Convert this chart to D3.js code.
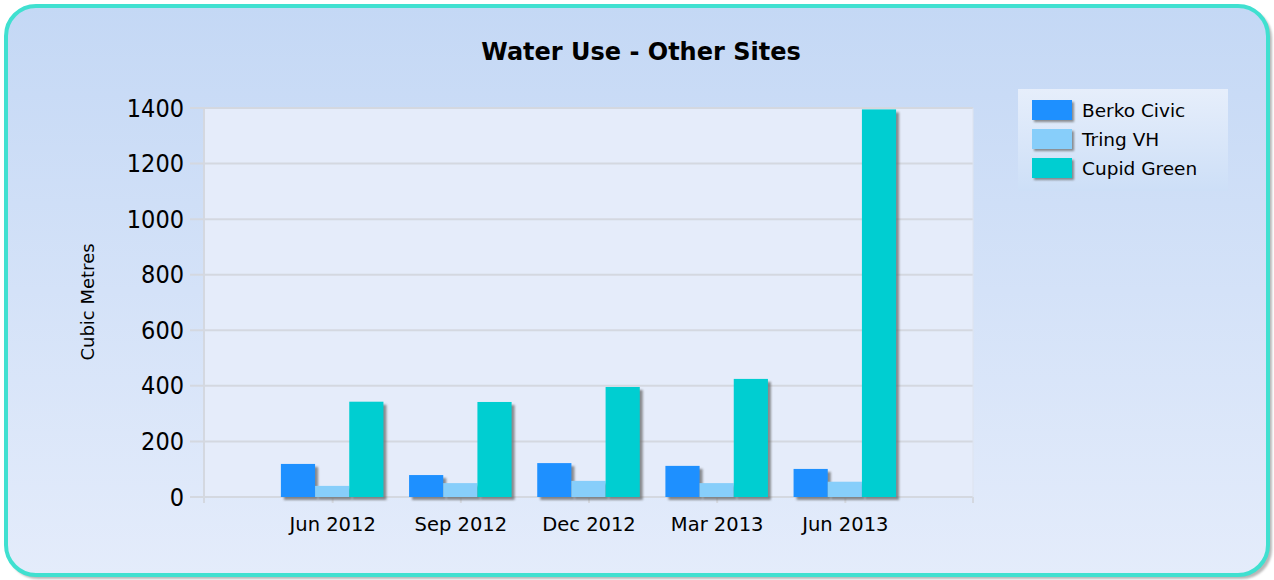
<!DOCTYPE html>
<html>
<head>
<meta charset="utf-8">
<script src="https://cdn.jsdelivr.net/npm/d3@7"></script>
<style>
  html, body { margin: 0; padding: 0; background: #ffffff; }
  svg { display: block; }
  text { font-family: "DejaVu Sans", sans-serif; fill: #000; }
</style>
</head>
<body>
<div id="canvas"></div>
<script>
// chart data
var periods = ['Jun 2012', 'Sep 2012', 'Dec 2012', 'Mar 2013', 'Jun 2013'];
var seriesNames = ['Berko Civic', 'Tring VH', 'Cupid Green'];
var seriesColors = ['#1e90ff', '#87cefa', '#00ced1'];
var berkoCivic = [119, 79, 122, 112, 101];
var tringVH = [40, 50, 58, 50, 55];
var cupidGreen = [343, 342, 396, 425, 1395];
var yTicks = [0, 200, 400, 600, 800, 1000, 1200, 1400];

var seriesValues = [berkoCivic, tringVH, cupidGreen];

var W = 1274, H = 580;
var plotLeft = 204, plotRight = 973, plotTop = 108, plotBottom = 497;

var svg = d3.select('#canvas').append('svg')
  .attr('width', W)
  .attr('height', H);

var defs = svg.append('defs');
var bgGrad = defs.append('linearGradient').attr('id', 'bgGrad')
  .attr('x1', 0).attr('y1', 0).attr('x2', 0).attr('y2', 1);
bgGrad.append('stop').attr('offset', '0%').attr('stop-color', '#c4d8f5');
bgGrad.append('stop').attr('offset', '100%').attr('stop-color', '#e4ecfb');

var legGrad = defs.append('linearGradient').attr('id', 'legGrad')
  .attr('x1', 0).attr('y1', 0).attr('x2', 0).attr('y2', 1);
legGrad.append('stop').attr('offset', '0%').attr('stop-color', '#e6eefb');
legGrad.append('stop').attr('offset', '100%').attr('stop-color', '#cddff7');

var blur = defs.append('filter').attr('id', 'soft')
  .attr('x', '-20%').attr('y', '-20%').attr('width', '140%').attr('height', '140%');
blur.append('feGaussianBlur').attr('stdDeviation', 1);

// frame
svg.append('rect')
  .attr('x', 8).attr('y', 8).attr('width', 1264).attr('height', 571)
  .attr('rx', 30).attr('fill', '#b8b8b8').attr('filter', 'url(#soft)');
svg.append('rect')
  .attr('x', 6).attr('y', 6).attr('width', 1262).attr('height', 569)
  .attr('rx', 30)
  .attr('fill', 'url(#bgGrad)')
  .attr('stroke', '#40e0d0')
  .attr('stroke-width', 4);

// title
svg.append('text')
  .attr('x', 641).attr('y', 60)
  .attr('text-anchor', 'middle')
  .style('font-weight', 'bold')
  .style('font-size', '24px')
  .text('Water Use - Other Sites');

var y = d3.scaleLinear().domain([0, 1400]).range([plotBottom, plotTop]);
var x = d3.scaleLinear().domain([0, periods.length + 1]).range([plotLeft, plotRight]);
var step = x(1) - x(0);
var groupW = step * 0.8;
var barW = groupW / seriesNames.length;

// plot area
svg.append('rect')
  .attr('x', plotLeft).attr('y', plotTop)
  .attr('width', plotRight - plotLeft).attr('height', plotBottom - plotTop)
  .attr('fill', '#e5ecfa');

// grid
svg.append('g').selectAll('line')
  .data(yTicks)
  .enter().append('line')
  .attr('x1', plotLeft - 14).attr('x2', plotRight)
  .attr('y1', function (d) { return y(d); })
  .attr('y2', function (d) { return y(d); })
  .attr('stroke', '#d4d8e0')
  .attr('stroke-width', 2);

// y axis
var yAxis = svg.append('g')
  .attr('transform', 'translate(' + (plotLeft - 14) + ',0)')
  .call(d3.axisLeft(y).tickValues(yTicks).tickFormat(d3.format('d'))
    .tickSize(0).tickPadding(6));
yAxis.select('.domain').remove();
yAxis.selectAll('text')
  .style('font-size', '25px')
  .style('font-family', '"DejaVu Sans Condensed", "DejaVu Sans", sans-serif');

svg.append('line')
  .attr('x1', plotLeft).attr('x2', plotLeft)
  .attr('y1', plotTop).attr('y2', plotBottom + 6)
  .attr('stroke', '#d4d8e0').attr('stroke-width', 2);
svg.append('line')
  .attr('x1', plotRight).attr('x2', plotRight)
  .attr('y1', plotTop).attr('y2', plotBottom)
  .attr('stroke', '#dde3ee').attr('stroke-width', 1);

// x axis
var xAxis = svg.append('g')
  .attr('transform', 'translate(0,' + plotBottom + ')')
  .call(d3.axisBottom(x)
    .tickValues(d3.range(1, periods.length + 1))
    .tickFormat(function (d) { return periods[d - 1]; })
    .tickSize(6).tickPadding(14));
xAxis.select('.domain').remove();
xAxis.selectAll('line').attr('stroke', '#d4d8e0').attr('stroke-width', 2);
xAxis.selectAll('text')
  .style('font-size', '19.5px')
  .style('font-family', '"DejaVu Sans", sans-serif');
svg.append('line')
  .attr('x1', plotRight).attr('x2', plotRight)
  .attr('y1', plotBottom).attr('y2', plotBottom + 6)
  .attr('stroke', '#d4d8e0').attr('stroke-width', 2);

// bars, each series drawn with its shadow first
var bars = svg.append('g');
seriesValues.forEach(function (vals, s) {
  var g = bars.append('g');
  g.selectAll('rect.shadow')
    .data(vals)
    .enter().append('rect')
    .attr('class', 'shadow')
    .attr('x', function (d, i) { return x(i + 1) - groupW / 2 + s * barW + 3; })
    .attr('y', function (d) { return y(d) + 3; })
    .attr('width', barW)
    .attr('height', function (d) { return plotBottom - y(d); })
    .attr('fill', '#6a6a6a')
    .attr('opacity', 0.75)
    .attr('filter', 'url(#soft)');
  g.selectAll('rect.bar')
    .data(vals)
    .enter().append('rect')
    .attr('class', 'bar')
    .attr('x', function (d, i) { return x(i + 1) - groupW / 2 + s * barW; })
    .attr('y', function (d) { return y(d); })
    .attr('width', barW)
    .attr('height', function (d) { return plotBottom - y(d); })
    .attr('fill', seriesColors[s]);
});

// y axis title
svg.append('text')
  .attr('transform', 'translate(94,302) rotate(-90)')
  .attr('text-anchor', 'middle')
  .style('font-size', '18px')
  .text('Cubic Metres');

// legend
var legend = svg.append('g').attr('transform', 'translate(1018,89)');
legend.append('rect')
  .attr('width', 210).attr('height', 102)
  .attr('fill', 'url(#legGrad)');
var items = legend.selectAll('g.item')
  .data(seriesNames)
  .enter().append('g')
  .attr('class', 'item')
  .attr('transform', function (d, i) { return 'translate(14,' + (11 + i * 29) + ')'; });
items.append('rect')
  .attr('x', 2).attr('y', 2)
  .attr('width', 40).attr('height', 20)
  .attr('fill', '#6a6a6a').attr('opacity', 0.75)
  .attr('filter', 'url(#soft)');
items.append('rect')
  .attr('width', 40).attr('height', 20)
  .attr('fill', function (d, i) { return seriesColors[i]; });
items.append('text')
  .attr('x', 50).attr('y', 17)
  .style('font-size', '18.5px')
  .text(function (d) { return d; });
</script>
</body>
</html>
